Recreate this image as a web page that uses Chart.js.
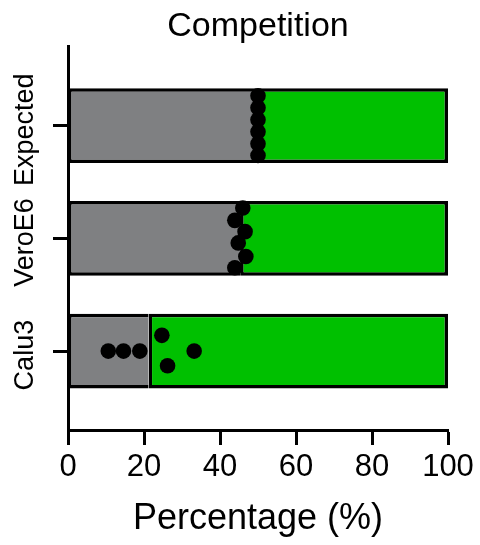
<!DOCTYPE html>
<html>
<head>
<meta charset="utf-8">
<script src="https://cdn.jsdelivr.net/npm/chart.js@4/dist/chart.umd.min.js"></script>
<style>
  html, body { margin: 0; padding: 0; background: #ffffff; }
  #wrap { width: 480px; height: 545px; position: relative; }
</style>
</head>
<body>
<div id="wrap"><canvas id="c"></canvas></div>
<script>
// ---- data ----
const categories = ['Expected', 'VeroE6', 'Calu3'];
const greyPct = [50, 45.3, 21.2];            // grey segment (mean), green fills to 100
const totalPct = [100, 100, 100];
const expectedDots = [50, 50, 50, 50, 50, 50];
const expectedJitter = [-0.265, -0.16, -0.053, 0.053, 0.16, 0.265];
const veroDots = [46.0, 43.9, 46.6, 44.8, 46.8, 43.9];
const veroJitter = [-0.27, -0.16, -0.06, 0.04, 0.16, 0.26];
const calu3Dots = [10.6, 14.6, 18.9, 24.7, 26.2, 33.2];
const calu3Jitter = [0, 0, 0, -0.14, 0.13, 0];
const xTicks = [0, 20, 40, 60, 80, 100];

const FONT = '"Liberation Sans", Arial, Helvetica, sans-serif';

const dotSets = [
  [expectedDots, expectedJitter],
  [veroDots, veroJitter],
  [calu3Dots, calu3Jitter]
];
const dotData = [];
dotSets.forEach(([vals, jit], i) => {
  vals.forEach((v, k) => dotData.push({ x: v, y: i + jit[k] }));
});

const greyData = categories.map((c, i) => ({ x: [0, greyPct[i]], y: i }));
const greenData = categories.map((c, i) => ({ x: [greyPct[i], totalPct[i]], y: i }));

const yLabelPlugin = {
  id: 'yLabels',
  afterDraw(chart) {
    const ctx = chart.ctx;
    const ys = chart.scales.y;
    ctx.save();
    ctx.fillStyle = '#000';
    ctx.font = '27px ' + FONT;
    ctx.textAlign = 'center';
    ctx.textBaseline = 'middle';
    categories.forEach((lab, i) => {
      const py = ys.getPixelForValue(i) + 4;
      ctx.save();
      ctx.translate(26, py);
      ctx.rotate(-Math.PI / 2);
      ctx.fillText(lab, 0, 0);
      ctx.restore();
    });
    ctx.restore();
  }
};

new Chart(document.getElementById('c'), {
  type: 'bar',
  data: {
    datasets: [
      {
        type: 'scatter',
        data: dotData,
        backgroundColor: '#000',
        borderWidth: 0,
        pointRadius: 7.8,
        pointHoverRadius: 7.8,
        order: 0
      },
      {
        type: 'bar',
        indexAxis: 'y',
        data: greyData,
        backgroundColor: '#7f8082',
        borderColor: '#000',
        borderWidth: { top: 3.5, bottom: 3.5, left: 3, right: 0 },
        borderSkipped: false,
        grouped: false,
        barPercentage: 0.83,
        categoryPercentage: 0.8,
        order: 1
      },
      {
        type: 'bar',
        indexAxis: 'y',
        data: greenData,
        backgroundColor: '#00c000',
        borderColor: '#000',
        borderWidth: 3.5,
        borderSkipped: false,
        grouped: false,
        barPercentage: 0.83,
        categoryPercentage: 0.8,
        order: 2
      }
    ]
  },
  options: {
    responsive: true,
    maintainAspectRatio: false,
    animation: false,
    indexAxis: 'y',
    layout: { padding: { top: 0, right: 32, bottom: 0, left: 0 } },
    plugins: {
      legend: { display: false },
      tooltip: { enabled: false },
      title: {
        display: true,
        text: 'Competition',
        fullSize: false,
        color: '#000',
        font: { family: FONT, size: 34, weight: 'normal' },
        padding: { top: 6, bottom: 0 }
      }
    },
    scales: {
      x: {
        type: 'linear',
        position: 'bottom',
        min: 0,
        max: 100,
        offset: false,
        afterBuildTicks: (s) => { s.ticks = xTicks.map(v => ({ value: v })); },
        afterFit: (s) => { s.height = 115; },
        grid: {
          offset: false,
          drawOnChartArea: false,
          drawTicks: true,
          tickLength: 15,
          tickWidth: 3,
          tickColor: '#000'
        },
        border: { display: true, color: '#000', width: 3 },
        ticks: {
          color: '#000',
          font: { family: FONT, size: 31 },
          padding: 4,
          maxRotation: 0
        },
        title: {
          display: true,
          text: 'Percentage (%)',
          color: '#000',
          font: { family: FONT, size: 36 },
          padding: { top: 0, bottom: 4 }
        }
      },
      y: {
        type: 'linear',
        position: 'left',
        reverse: true,
        min: -0.7,
        max: 2.7,
        offset: false,
        afterBuildTicks: (s) => { s.ticks = categories.map((c, i) => ({ value: i })); },
        afterFit: (s) => { s.width = 68; },
        grid: {
          offset: false,
          drawOnChartArea: false,
          drawTicks: true,
          tickLength: 15,
          tickWidth: 3,
          tickColor: '#000'
        },
        border: { display: true, color: '#000', width: 3 },
        ticks: { display: false }
      }
    }
  },
  plugins: [yLabelPlugin]
});
</script>
</body>
</html>
